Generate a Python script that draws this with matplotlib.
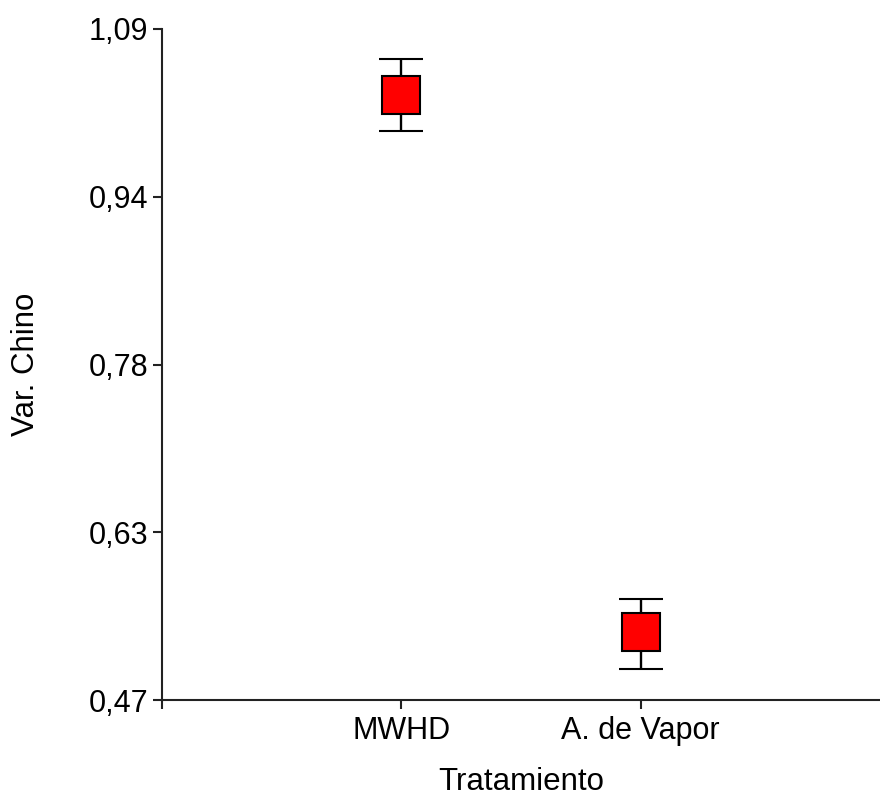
import matplotlib
matplotlib.use("Agg")
import matplotlib.pyplot as plt

plt.rcParams['font.family'] = ['Liberation Sans', 'DejaVu Sans']

# data
tratamientos = ['MWHD', 'A. de Vapor']
x_pos = [1, 2]
medias = [1.029, 0.533]
err_inf = [0.033, 0.0345]
err_sup = [0.033, 0.030]

y_ticks = [0.47, 0.625, 0.78, 0.935, 1.09]
y_labels = ['0,47', '0,63', '0,78', '0,94', '1,09']

fig = plt.figure(figsize=(8.8, 7.98), dpi=100)
ax = fig.add_axes([162/880, 1 - 700/798, 718/880, 671/798])

ax.errorbar(x_pos, medias, yerr=[err_inf, err_sup], fmt='s', color='black',
            ecolor='black', elinewidth=1.7, capsize=15.5, capthick=1.7,
            markersize=27, markerfacecolor='#ff0000', markeredgecolor='black',
            markeredgewidth=1.5, zorder=3)

ax.set_xlim(0, 3)
ax.set_ylim(0.47, 1.09)
ax.set_xticks([0] + x_pos)
ax.set_xticklabels([''] + tratamientos)
ax.set_yticks(y_ticks)
ax.set_yticklabels(y_labels)

for s in ['top', 'right']:
    ax.spines[s].set_visible(False)
for s in ['left', 'bottom']:
    ax.spines[s].set_linewidth(1.5)
    ax.spines[s].set_color('#222222')

ax.tick_params(axis='both', direction='out', length=6.5, width=1.5,
               labelsize=22, color='#222222', pad=3.5)
ax.tick_params(axis='x', pad=5)

ax.set_xlabel('Tratamiento', fontsize=22.5, labelpad=15)
ax.set_ylabel('Var. Chino', fontsize=22.5, labelpad=34)

fig.savefig('out.png', dpi=100)
